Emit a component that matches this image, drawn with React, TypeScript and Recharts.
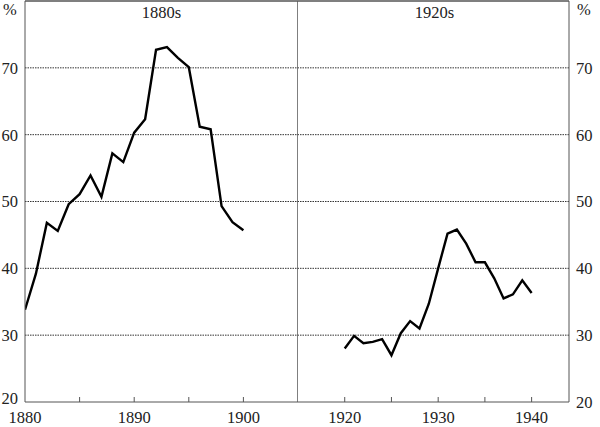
import React from "react";
import { LineChart, Line, XAxis, YAxis, ReferenceLine } from "recharts";

const years1880s = [1880,1881,1882,1883,1884,1885,1886,1887,1888,1889,1890,1891,1892,1893,1894,1895,1896,1897,1898,1899,1900];
const values1880s = [33.8,39.2,46.8,45.6,49.6,51.1,53.9,50.7,57.2,55.9,60.3,62.3,72.7,73.1,71.5,70.1,61.2,60.8,49.3,46.9,45.7];
const years1920s = [1920,1921,1922,1923,1924,1925,1926,1927,1928,1929,1930,1931,1932,1933,1934,1935,1936,1937,1938,1939,1940];
const values1920s = [28.0,29.9,28.8,29.0,29.4,27.0,30.3,32.1,31.0,34.7,40.0,45.2,45.8,43.7,40.9,40.9,38.5,35.5,36.1,38.2,36.3];

const leftTicks = [1880,1885,1890,1895,1900,1905];
const rightTicks = [1920,1925,1930,1935,1940];
const yTicks = [20,30,40,50,60,70];
const gridValues = [30,40,50,60,70];
const leftDomain = [1880, 1905];
const rightDomain = [1915, 1944];
const yDomain = [20, 80];
const titles = ["1880s", "1920s"];
const unit = "%";

const left = years1880s.map((y, i) => ({ year: y, v: values1880s[i] }));
const right = years1920s.map((y, i) => ({ year: y, v: values1920s[i] }));

const FONT = "'Liberation Serif', 'Times New Roman', serif";
const AX = "#555";
const FS = 16.5;
const TM = 9;

const makeTick = (labelled: (v: number) => boolean, hideAt: number[]) => (props: any) => {
  const { x, y, payload } = props;
  const v = payload.value;
  const axisY = y - TM;
  return (
    <g>
      {!hideAt.includes(v) && (
        <line x1={x} x2={x} y1={axisY} y2={axisY - 5} stroke={AX} strokeWidth={1} />
      )}
      {labelled(v) && (
        <text x={x} y={y} dy="0.72em" textAnchor="middle" fontFamily={FONT} fontSize={FS} fill="#222">
          {v}
        </text>
      )}
    </g>
  );
};

const makeYTick = (anchor: "start" | "end", lift: number) => (props: any) => {
  const { x, y, payload } = props;
  const v = payload.value;
  return (
    <text x={x} y={v === yDomain[0] ? y - lift : y} dy="0.36em" textAnchor={anchor} fontFamily={FONT} fontSize={FS} fill="#222">
      {v}
    </text>
  );
};

export default function App() {
  return (
    <div style={{ position: "absolute", left: 0, top: 0, width: 600, height: 427, background: "#fff" }}>
      <div style={{ position: "absolute", left: 0, top: 0 }}>
        <LineChart width={298} height={427} data={left} margin={{ top: 1, right: 0, bottom: 0, left: 0 }}>
          <XAxis
            dataKey="year"
            type="number"
            domain={leftDomain}
            ticks={leftTicks}
            interval={0}
            allowDataOverflow
            height={25}
            stroke={AX}
            tickLine={false}
            tickSize={0}
            tickMargin={TM}
            tick={makeTick((v) => v % 10 === 0 && v < 1905, [1880, 1905])}
          />
          <YAxis
            type="number"
            domain={yDomain}
            ticks={yTicks}
            interval={0}
            width={25}
            stroke={AX}
            tickLine={false}
            tickSize={0}
            tickMargin={7}
            tick={makeYTick("end", 4)}
          />
          {gridValues.map((g) => (
            <ReferenceLine key={g} y={g} stroke="#333" strokeDasharray="1.5 1" strokeWidth={1} />
          ))}
          <ReferenceLine y={80} stroke={AX} strokeWidth={1.5} />
          <ReferenceLine x={1905} stroke={AX} strokeWidth={1.5} />
          <Line dataKey="v" stroke="#000" strokeWidth={2.4} dot={false} isAnimationActive={false} />
        </LineChart>
      </div>
      <div style={{ position: "absolute", left: 298, top: 0 }}>
        <LineChart width={302} height={427} data={right} margin={{ top: 1, right: 0, bottom: 0, left: 0 }}>
          <XAxis
            dataKey="year"
            type="number"
            domain={rightDomain}
            ticks={rightTicks}
            interval={0}
            allowDataOverflow
            height={25}
            stroke={AX}
            tickLine={false}
            tickSize={0}
            tickMargin={TM}
            tick={makeTick((v) => v % 10 === 0, [])}
          />
          <YAxis
            orientation="right"
            type="number"
            domain={yDomain}
            ticks={yTicks}
            interval={0}
            width={31}
            stroke={AX}
            tickLine={false}
            tickSize={0}
            tickMargin={7}
            tick={makeYTick("start", 0)}
          />
          {gridValues.map((g) => (
            <ReferenceLine key={g} y={g} stroke="#333" strokeDasharray="1.5 1" strokeWidth={1} />
          ))}
          <ReferenceLine y={80} stroke={AX} strokeWidth={1.5} />
          <Line dataKey="v" stroke="#000" strokeWidth={2.4} dot={false} isAnimationActive={false} />
        </LineChart>
      </div>
      <div style={{ position: "absolute", left: 3, top: 0, fontFamily: FONT, fontSize: FS, color: "#222", lineHeight: "20px" }}>{unit}</div>
      <div style={{ position: "absolute", left: 577, top: 0, fontFamily: FONT, fontSize: FS, color: "#222", lineHeight: "20px" }}>{unit}</div>
      <div style={{ position: "absolute", left: 25, width: 273, top: 3, textAlign: "center", fontFamily: FONT, fontSize: FS, color: "#222", lineHeight: "20px" }}>{titles[0]}</div>
      <div style={{ position: "absolute", left: 298, width: 273, top: 3, textAlign: "center", fontFamily: FONT, fontSize: FS, color: "#222", lineHeight: "20px" }}>{titles[1]}</div>
    </div>
  );
}
